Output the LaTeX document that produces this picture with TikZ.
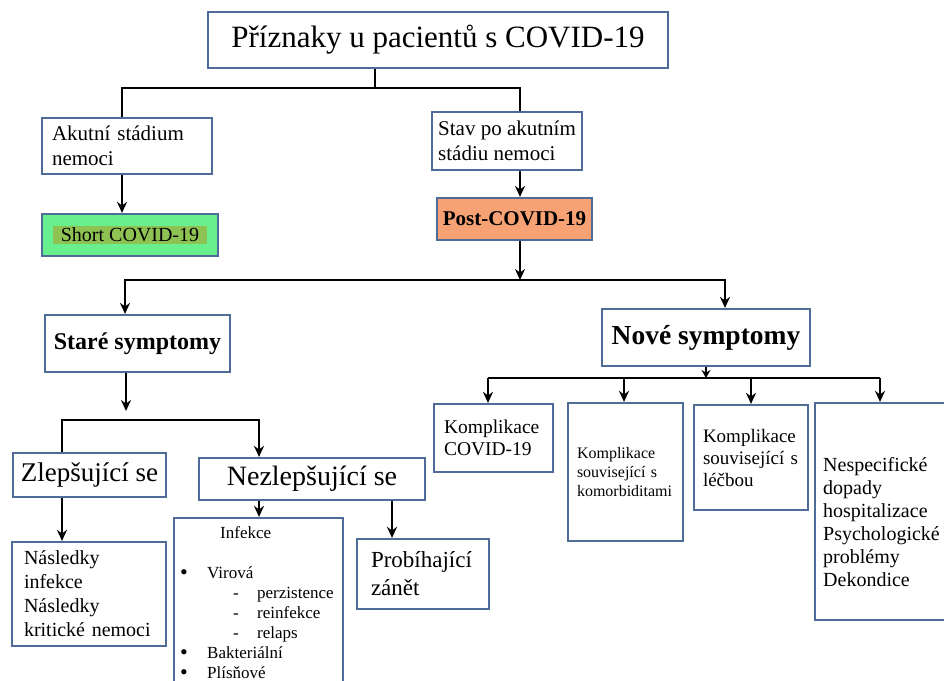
\documentclass[tikz,border=0pt]{standalone}
\usepackage{fontspec}
\setmainfont{Liberation Serif}
\usetikzlibrary{arrows.meta}

\definecolor{boxblue}{RGB}{79,108,152}
\definecolor{shortgreen}{RGB}{104,240,142}
\definecolor{shorthl}{RGB}{142,194,82}
\definecolor{postorange}{RGB}{246,162,116}
\newcommand{\fs}[2]{\fontsize{#1}{#2}\selectfont}
\newcommand{\blt}{\makebox[27pt][l]{\smash{\raisebox{-1.5pt}{\fs{22}{20}•}}}}
\setlength{\fboxsep}{2pt}

\begin{document}
\begin{tikzpicture}[x=1pt,y=-1pt,
        box/.style={draw=boxblue, line width=2.2pt, fill=white, rectangle, inner sep=0pt},
        line/.style={line width=2.2pt, black},
        arr/.style={line width=2.2pt, black, -{Stealth[length=11pt,width=10pt]}}]
    \useasboundingbox (0,0) rectangle (944,680);
    \clip (0,0) rectangle (944,680);

    % upper part
    \node[box, minimum width=460, minimum height=56, font=\fs{31}{36}] (title) at (438,40) {Příznaky u pacientů s COVID-19};
    \node[box, minimum width=170, minimum height=56, text width=150, align=left, font=\fs{21}{25}] (akut) at (127,146) {Akutní stádium\\nemoci};
    \node[box, minimum width=150, minimum height=58, align=left, font=\fs{21}{25}] (stav) at (507,141) {Stav po akutním\\stádiu nemoci};
    \node[box, fill=shortgreen, minimum width=176, minimum height=42, font=\fs{20}{23}] (short) at (130,235) {\colorbox{shorthl}{\hspace{6pt}Short COVID-19\hspace{6pt}}};
    \node[box, fill=postorange, minimum width=155, minimum height=42, font=\fs{21}{24}\bfseries] (post) at (514.5,219) {Post-COVID-19};

    % old symptoms
    \node[box, minimum width=185, minimum height=57, font=\fs{24}{28}\bfseries] (stare) at (137.5,343.5) {Staré symptomy};
    \node[box, minimum width=153, minimum height=44, font=\fs{27}{30}] (zlep) at (89.5,475) {Zlepšující se};
    \node[box, minimum width=226, minimum height=42, font=\fs{28}{31}] (nezl) at (312,479) {Nezlepšující se};
    \node[box, minimum width=154, minimum height=104, text width=130, align=left, font=\fs{20}{24}] (nasl) at (89,594) {Následky\\infekce\\Následky\\kritické nemoci};
    \node[box, minimum width=169, minimum height=180] (infekce) at (258.5,608) {};
    \node[anchor=north west, align=left, inner sep=0pt, font=\fs{17}{20}] (infekcetext) at (180,526) {\hspace*{40pt}Infekce\\[20pt]
        \blt Virová\\
        \hspace*{53pt}\makebox[24pt][l]{-}perzistence\\
        \hspace*{53pt}\makebox[24pt][l]{-}reinfekce\\
        \hspace*{53pt}\makebox[24pt][l]{-}relaps\\
        \blt Bakteriální\\
        \blt Plísňové};
    \node[box, minimum width=132, minimum height=70, text width=104, align=left, font=\fs{23}{28}] (prob) at (423,574) {Probíhající\\zánět};

    % new symptoms
    \node[box, minimum width=208, minimum height=57, font=\fs{27.5}{31}\bfseries] (nove) at (706,337.5) {Nové symptomy};
    \node[box, minimum width=119, minimum height=68, text width=99, align=left, font=\fs{19.5}{22}] (k1) at (493.5,438) {Komplikace\\COVID-19};
    \node[box, minimum width=115, minimum height=138, text width=97, align=left, font=\fs{16}{19}] (k2) at (625.5,472) {Komplikace\\související s\\komorbiditami};
    \node[box, minimum width=114, minimum height=105, text width=96, align=left, font=\fs{19}{22}] (k3) at (751,457.5) {Komplikace\\související s\\léčbou};
    \node[box, minimum width=135, minimum height=217] (k4) at (882.5,511.5) {};
    \node[anchor=west, align=left, inner sep=0pt, font=\fs{20}{23}] (k4text) at (823,522) {Nespecifické\\dopady\\hospitalizace\\Psychologické\\problémy\\Dekondice};

    % where the connectors run
    \coordinate (xakut) at (122,0);
    \coordinate (xstav) at (520,0);
    \coordinate (xstare) at (125,0);
    \coordinate (xnove) at (725,0);
    \coordinate (xzlep) at (62,0);
    \coordinate (xnezl) at (259,0);
    \coordinate (xprob) at (392,0);
    \coordinate (xk1) at (488,0);
    \coordinate (xk2) at (624,0);
    \coordinate (xk3) at (751,0);
    \coordinate (xk4) at (880,0);
    \coordinate (j1) at (375,88);
    \coordinate (j2) at (520,280);
    \coordinate (j3) at (126,420);
    \coordinate (j3a) at (126,411);
    \coordinate (j4) at (706,378);

    \draw[line] (title.south -| j1) -- (j1);
    \draw[line] (akut.north -| xakut) |- (j1) -| (stav.north -| xstav);
    \draw[arr] (akut.south -| xakut) -- (short.north -| xakut);
    \draw[arr] (stav.south -| xstav) -- (post.north -| xstav);
    \draw[arr] (post.south -| j2) -- (j2);
    \draw[arr] (j2) -| (stare.north -| xstare);
    \draw[arr] (j2) -| (nove.north -| xnove);

    \draw[arr] (stare.south -| j3) -- (j3a);
    \draw[arr] (zlep.north -| xzlep) |- (j3) -| (nezl.north -| xnezl);
    \draw[arr] (zlep.south -| xzlep) -- (nasl.north -| xzlep);
    \draw[arr] (nezl.south -| xnezl) -- (infekce.north -| xnezl);
    \draw[arr] (nezl.south -| xprob) -- (prob.north -| xprob);

    \draw[line, -{Stealth[length=8pt,width=9pt]}] (nove.south) -- (j4);
    \draw[line] (j4 -| xk1) -- (j4 -| xk4);
    \foreach \k in {1,...,4}
        \draw[arr] (j4 -| xk\k) -- (k\k.north -| xk\k);
\end{tikzpicture}
\end{document}
